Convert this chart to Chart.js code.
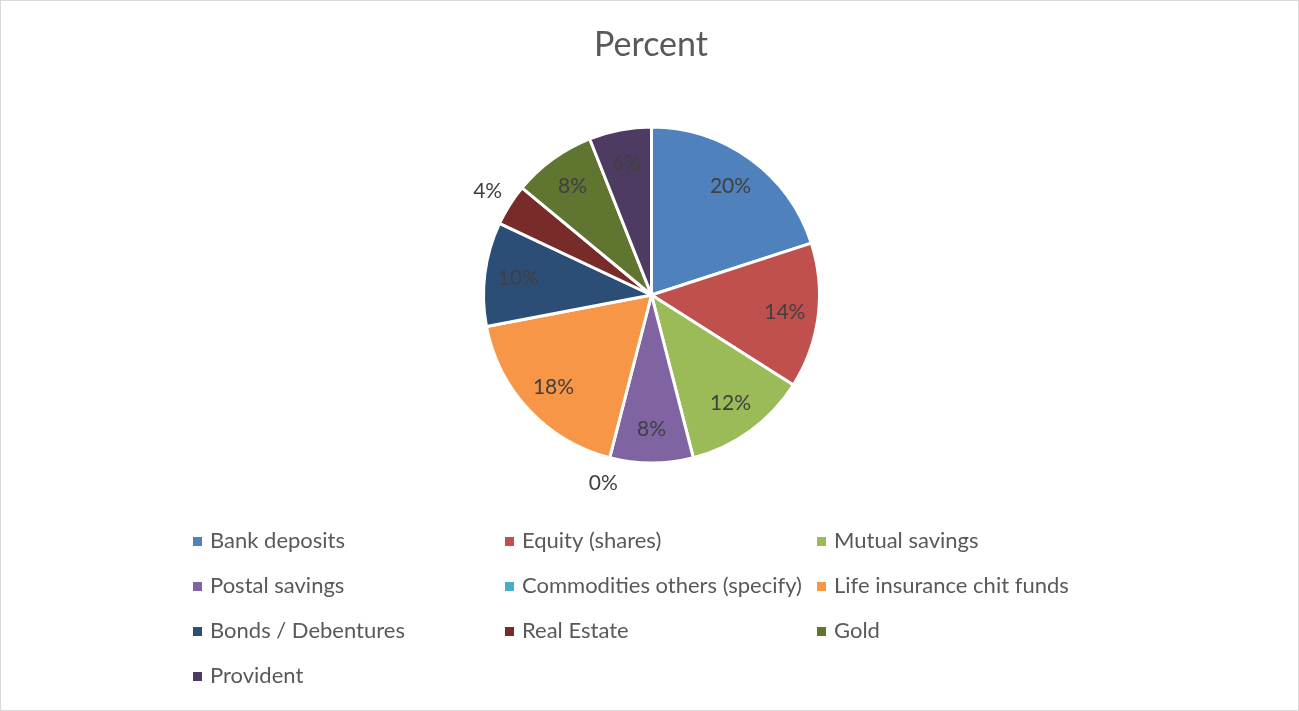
<!DOCTYPE html>
<html>
<head>
<meta charset="utf-8">
<title>Percent</title>
<script src="https://cdn.jsdelivr.net/npm/chart.js@4/dist/chart.umd.min.js"></script>
<style>
    html, body { margin: 0; padding: 0; background: #fff; }
    #wrap { width: 1299px; height: 711px; }
</style>
</head>
<body>
<div id="wrap"><canvas id="percent_pie"></canvas></div>
<script>
    const labels = [
        'Bank deposits',
        'Equity (shares)',
        'Mutual savings',
        'Postal savings',
        'Commodities others (specify)',
        'Life insurance chit funds',
        'Bonds / Debentures',
        'Real Estate',
        'Gold',
        'Provident'
    ];

    const percent_values = [20, 14, 12, 8, 0, 18, 10, 4, 8, 6];

    const slice_colors = [
        '#4F81BD', '#C0504D', '#9BBB59', '#8064A2', '#4BACC6',
        '#F79646', '#2C4D75', '#772C2A', '#5F7530', '#4D3B62'
    ];

    const FONT = 'Lato, "Open Sans", sans-serif';

    // title, border, value labels and the three-column legend
    const decorations = {
        id: 'decorations',
        afterDraw(chart) {
            const ctx = chart.ctx;
            ctx.save();

            ctx.strokeStyle = '#d9d9d9';
            ctx.lineWidth = 1;
            ctx.strokeRect(0.5, 0.5, chart.width - 1, chart.height - 1);

            ctx.fillStyle = '#595959';
            ctx.font = '34px ' + FONT;
            ctx.textAlign = 'center';
            ctx.textBaseline = 'middle';
            ctx.fillText('Percent', 651, 45);

            const meta = chart.getDatasetMeta(0);
            const values = chart.data.datasets[0].data;
            ctx.font = '21px ' + FONT;
            ctx.fillStyle = '#404040';
            meta.data.forEach((arc, i) => {
                const p = arc.getProps(['x', 'y', 'startAngle', 'endAngle', 'outerRadius'], true);
                const mid = (p.startAngle + p.endAngle) / 2;
                const r = values[i] < 5 ? p.outerRadius + 26 : p.outerRadius * 0.8;
                ctx.fillText(values[i] + '%', p.x + Math.cos(mid) * r, p.y + Math.sin(mid) * r);
            });

            const colX = [197, 509, 821];
            ctx.textAlign = 'left';
            ctx.font = '22px ' + FONT;
            chart.data.labels.forEach((lab, i) => {
                const x = colX[i % 3];
                const y = 541 + Math.floor(i / 3) * 45;
                ctx.fillStyle = slice_colors[i];
                ctx.fillRect(x - 4, y - 4, 9, 9);
                ctx.fillStyle = '#595959';
                ctx.fillText(lab, x + 13, y);
            });

            ctx.restore();
        }
    };

    const config = {
        type: 'pie',
        data: {
            labels: labels,
            datasets: [{
                data: percent_values,
                backgroundColor: slice_colors,
                borderColor: '#ffffff',
                borderWidth: 3
            }]
        },
        options: {
            responsive: true,
            maintainAspectRatio: false,
            animation: false,
            radius: 168,
            layout: {
                padding: { top: 100, bottom: 221, left: 4, right: 0 }
            },
            plugins: {
                legend: { display: false },
                title: { display: false },
                tooltip: { enabled: false }
            }
        },
        plugins: [decorations]
    };

    const percent_pie = new Chart(document.getElementById('percent_pie'), config);
</script>
</body>
</html>
